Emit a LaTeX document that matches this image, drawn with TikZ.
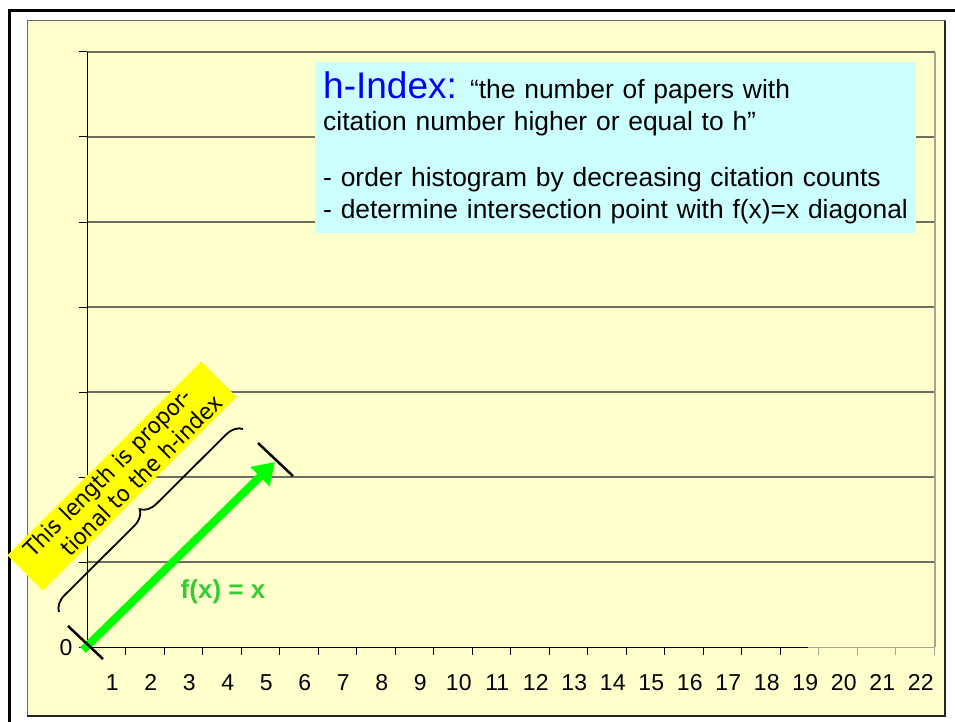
\documentclass[tikz,border=0pt]{standalone}
\usepackage{fontspec}
\setmainfont{Liberation Sans}
\newfontfamily\notefont[FakeStretch=0.94]{DejaVu Sans}
\usetikzlibrary{arrows.meta,decorations.pathreplacing}

\definecolor{panelyellow}{RGB}{255,255,204}
\definecolor{infocyan}{RGB}{204,255,255}
\definecolor{gridgray}{RGB}{110,110,95}
\definecolor{framegray}{RGB}{165,165,150}
\definecolor{arrowgreen}{RGB}{0,255,0}
\definecolor{labelgreen}{RGB}{51,204,51}
\definecolor{noteyellow}{RGB}{255,255,0}

\tikzset{
  gridline/.style={gridgray, line width=1.5pt},
  tickmark/.style={black, line width=1pt},
  axisnum/.style={font=\fontsize{23}{23}\selectfont, inner sep=0pt, anchor=base},
  endbar/.style={black, line width=2.5pt},
}

\begin{document}
\begin{tikzpicture}[x=1pt, y=-1pt]
  \useasboundingbox (0,0) rectangle (955,722);
  % Frame and panel
  \fill[white] (0,0) rectangle (955,722);
  \draw[black, line width=3pt] (9,722) -- (9,10.5) -- (955,10.5);
  \filldraw[fill=panelyellow, draw=black!60, line width=1pt] (27,21) rectangle (945,716);
  \draw[black!85, line width=1.5pt] (945,21) -- (945,716) -- (27,716);
  % Grid lines and y ticks
  \foreach \y in {52,137,222,307,392,477,562} {
    \draw[gridline] (87,\y) -- (935,\y);
    \draw[tickmark] (79,\y) -- (87,\y);
  }
  \draw[framegray, line width=1.5pt] (935,52) -- (935,647);
  % Axes
  \coordinate (o) at (87,647);
  \coordinate (ytop) at (87,52);
  \coordinate (xmid) at (808,647);
  \coordinate (xend) at (935,647);
  \draw[tickmark] (79,647) -- (o);
  \draw[tickmark] (ytop) -- (o) -- (xmid);
  \draw[framegray, line width=1pt] (xmid) -- (xend);
  \foreach \i in {1,...,18}
    \draw[tickmark] ({87+38.5*\i},647) -- ({87+38.5*\i},655);
  \foreach \i in {19,...,22}
    \draw[framegray, line width=1pt] ({87+38.5*\i},647) -- ({87+38.5*\i},655);
  \foreach \i in {1,...,22}
    \node[axisnum] (x\i) at ({73.75+38.5*\i},690) {\i};
  \node[axisnum] (zero) at (66,655) {0};
  % Definition box
  \node[fill=infocyan, anchor=north west, minimum width=601pt, minimum height=171pt,
        text width=585pt, inner xsep=8pt, inner ysep=9pt, align=left,
        font=\fontsize{26.4}{32}\selectfont] (info) at (315,62)
    {{\color{blue}\fontsize{37}{32}\selectfont h-Index:} “the number of papers with\\
     citation number higher or equal to h”\\[24pt]
     - order histogram by decreasing citation counts\\
     - determine intersection point with f(x)=x diagonal};
  % Rotated note
  \node[fill=noteyellow, rotate=45, minimum width=274pt, minimum height=50pt,
        text width=274pt, inner sep=0pt, align=left,
        font=\notefont\fontsize{22.5}{26}\selectfont] (note)
    at (122,476) {\hspace*{16pt}This length is propor-\\\hspace*{43pt}tional to the h-index};
  % Brace
  \coordinate (b1) at (59,612);
  \coordinate (b2) at (243,429);
  \draw[black, line width=1.8pt, decorate, decoration={brace, amplitude=16pt}] (b1) -- (b2);
  % Diagonal f(x)=x
  \coordinate (s) at (83,650);
  \coordinate (tip) at (275,462);
  \draw[arrowgreen, line width=8pt, -{Triangle[length=21pt,width=26pt]}] (s) -- (tip);
  \coordinate (a1) at (68,626);
  \coordinate (a2) at (103,659);
  \coordinate (c1) at (258,443);
  \coordinate (c2) at (293,476);
  \draw[endbar] (a1) -- (a2);
  \draw[endbar] (c1) -- (c2);
  \node[font=\bfseries\fontsize{26}{26}\selectfont, text=labelgreen] (fx) at (223,592) {f(x) = x};
\end{tikzpicture}
\end{document}
